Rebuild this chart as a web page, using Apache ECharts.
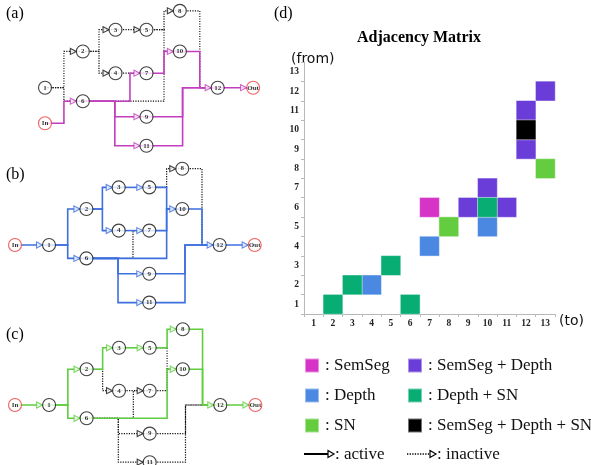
<!DOCTYPE html>
<html>
<head>
<meta charset="utf-8">
<script src="https://cdn.jsdelivr.net/npm/echarts@6/dist/echarts.min.js"></script>
<style>
  html, body { margin: 0; padding: 0; background: #fff; }
  #main { width: 591px; height: 465px; }
</style>
</head>
<body>
<div id="main"></div>
<script>
// ---- Adjacency matrix ----
const matrixTicks = ['1','2','3','4','5','6','7','8','9','10','11','12','13'];

// cells as [to, from], grouped by the tasks that keep the edge
const cellsSemSeg      = [['7','6']];
const cellsDepth       = [['4','2'], ['7','4'], ['10','5']];
const cellsSN          = [['8','5'], ['13','8']];
const cellsSemSegDepth = [['9','6'], ['11','6'], ['10','7'], ['12','9'], ['12','11'], ['13','12']];
const cellsDepthSN     = [['2','1'], ['6','1'], ['3','2'], ['5','3'], ['10','6']];
const cellsAll         = [['12','10']];

const groupNames  = ['SemSeg', 'Depth', 'SN', 'SemSeg + Depth', 'Depth + SN', 'SemSeg + Depth + SN'];
const groupCells  = [cellsSemSeg, cellsDepth, cellsSN, cellsSemSegDepth, cellsDepthSN, cellsAll];
const groupColors = ['#d534c6', '#4a88e2', '#63cc3f', '#6a3cd8', '#08ad74', '#000000'];

// ---- Task graphs ----
// node layout: column and row (rows grow downward)
const nodeNames = ['In', '1', '2', '3', '4', '5', '6', '7', '8', '9', '10', '11', '12', 'Out'];
const nodeCols  = [0, 1, 2.1, 3.05, 3.05, 3.95, 2.1, 3.95, 4.92, 3.95, 4.92, 3.95, 6.02, 7.05];
const nodeRows  = [0, 0, -2.5, -4, -1, -4, 0.93, -1, -5.3, 2, -2.5, 4, 0, 0];
const inPosA    = [1, 2.45];   // graph (a) feeds the input below node 1

// edges: [from, to, column of the vertical trunk]
const edgesShared = [
  ['1', '2', 1.55], ['1', '6', 1.55], ['2', '3', 2.57], ['2', '4', 2.57],
  ['3', '5', null], ['4', '7', null], ['6', '7', 3.47], ['6', '9', 3.03],
  ['6', '11', 3.03], ['5', '8', 4.46], ['5', '10', 4.46], ['6', '10', 4.46],
  ['7', '10', 4.46], ['8', '12', 5.5], ['10', '12', 5.5], ['9', '12', 5.0],
  ['11', '12', 5.0], ['12', 'Out', null]
];
const edgesA = [['In', '6', 1.55]].concat(edgesShared);
const edgesBC = [['In', '1', null]].concat(edgesShared);

const activeA = ['In-6', '6-7', '6-9', '6-11', '7-10', '10-12', '9-12', '11-12', '12-Out'];
const activeB = ['In-1', '1-2', '1-6', '2-3', '2-4', '3-5', '4-7', '5-10', '6-10', '7-10',
                 '6-9', '6-11', '9-12', '11-12', '10-12', '12-Out'];
const activeC = ['In-1', '1-2', '1-6', '2-3', '3-5', '5-8', '6-10', '8-12', '10-12', '12-Out'];

const panels = [
  { label: '(a)', color: '#c23ebf', edges: edgesA,  active: activeA, inPos: inPosA,
    x0: 10.6, ux: 34.4, y0: 87.7, uy: 14.5, labelY: 6 },
  { label: '(b)', color: '#3d6fdf', edges: edgesBC, active: activeB, inPos: null,
    x0: 15, ux: 34, y0: 245, uy: 14.4, labelY: 167 },
  { label: '(c)', color: '#5ecd3e', edges: edgesBC, active: activeC, inPos: null,
    x0: 15, ux: 34.1, y0: 405, uy: 14.3, labelY: 327 }
];

const W = 591, H = 465, PANEL_W = 280;
const serif = '"Liberation Serif", "Times New Roman", serif';

const grids = [], xAxes = [], yAxes = [], series = [], graphics = [];

panels.forEach(function (p, pi) {
  grids.push({ left: 0, top: 0, width: PANEL_W, height: H });
  xAxes.push({ type: 'value', gridIndex: pi, show: false,
    min: -p.x0 / p.ux, max: (PANEL_W - p.x0) / p.ux });
  yAxes.push({ type: 'value', gridIndex: pi, show: false, inverse: true,
    min: -p.y0 / p.uy, max: (H - p.y0) / p.uy });

  const pos = {};
  nodeNames.forEach(function (n, i) { pos[n] = [nodeCols[i], nodeRows[i]]; });
  if (p.inPos) pos['In'] = p.inPos;

  function route(e) {
    const a = pos[e[0]], b = pos[e[1]];
    if (e[2] === null || a[1] === b[1]) return [a, b];
    return [a, [e[2], a[1]], [e[2], b[1]], b];
  }

  const on = [], off = [];
  const arrowActive = {};
  p.edges.forEach(function (e) {
    const isOn = p.active.indexOf(e[0] + '-' + e[1]) >= 0;
    (isOn ? on : off).push({ coords: route(e) });
    arrowActive[e[1]] = arrowActive[e[1]] || isOn;
  });

  series.push({
    type: 'lines', coordinateSystem: 'cartesian2d', xAxisIndex: pi, yAxisIndex: pi,
    polyline: true, silent: true, z: 2, data: off,
    lineStyle: { color: '#111', width: 1.2, type: [1.2, 1.3], opacity: 1 }
  });
  series.push({
    type: 'lines', coordinateSystem: 'cartesian2d', xAxisIndex: pi, yAxisIndex: pi,
    polyline: true, silent: true, z: 3, data: on,
    lineStyle: { color: p.color, width: 1.6, opacity: 1 }
  });

  // arrow heads in front of each node that receives an edge
  const arrows = Object.keys(arrowActive).map(function (n) {
    return {
      value: pos[n],
      itemStyle: { color: '#fff', borderColor: arrowActive[n] ? p.color : '#111', borderWidth: 1.1 }
    };
  });
  series.push({
    type: 'scatter', xAxisIndex: pi, yAxisIndex: pi, silent: true, z: 4,
    symbol: 'triangle', symbolSize: [6, 6], symbolRotate: -90, symbolOffset: [-9.5, 0],
    data: arrows
  });

  // nodes
  const nodes = nodeNames.map(function (n) {
    const io = (n === 'In' || n === 'Out');
    return {
      name: n, value: pos[n],
      itemStyle: { color: '#fff', borderColor: io ? '#ec3a3a' : '#111', borderWidth: 1.1 }
    };
  });
  series.push({
    type: 'scatter', xAxisIndex: pi, yAxisIndex: pi, silent: true, z: 5,
    symbol: 'circle', symbolSize: 13, data: nodes,
    label: { show: true, position: 'inside', formatter: '{b}', color: '#000',
      fontFamily: serif, fontWeight: 'bold', fontSize: 7 }
  });

  graphics.push({ type: 'text', left: 6, top: p.labelY,
    style: { text: p.label, font: '16px ' + serif, fill: '#000' } });
});

// ---- matrix grid ----
const mi = panels.length;
grids.push({ left: 304, top: 62, width: 251, height: 252 });
const axisCommon = {
  type: 'category', gridIndex: mi, data: matrixTicks,
  axisLine: { lineStyle: { color: '#b8b8b8', width: 1 } },
  axisTick: { show: true, interval: 0, length: 3, lineStyle: { color: '#b8b8b8' } },
  axisLabel: { interval: 0, fontFamily: serif, fontWeight: 'bold', fontSize: 9.5, color: '#222', margin: 5 },
  splitLine: { show: false }
};
xAxes.push(Object.assign({}, axisCommon, {
  name: '(to)', nameLocation: 'end', nameGap: 4,
  nameTextStyle: { fontFamily: '"DejaVu Sans", sans-serif', fontSize: 14, color: '#111',
    verticalAlign: 'top', padding: [0, 0, 0, 0] }
}));
yAxes.push(Object.assign({}, axisCommon, {
  name: '(from)', nameLocation: 'end', nameGap: -4,
  nameTextStyle: { fontFamily: '"DejaVu Sans", sans-serif', fontSize: 14, color: '#111',
    align: 'left', padding: [0, 0, 0, -13] }
}));

groupNames.forEach(function (name, gi) {
  series.push({
    type: 'heatmap', name: name, xAxisIndex: mi, yAxisIndex: mi, silent: true,
    itemStyle: { color: groupColors[gi], borderColor: 'rgba(255,255,255,0.45)', borderWidth: 1 },
    data: groupCells[gi].map(function (c) {
      return [matrixTicks.indexOf(c[0]), matrixTicks.indexOf(c[1]), 1];
    })
  });
});

const legendBase = {
  orient: 'vertical', icon: 'rect', itemWidth: 14, itemHeight: 14, itemGap: 13,
  selectedMode: false, padding: 0,
  textStyle: { fontFamily: serif, fontSize: 17, color: '#111', padding: [0, 0, 0, 1] },
  formatter: function (n) { return ': ' + n; }
};
const legends = [
  Object.assign({}, legendBase, { left: 304, top: 357, data: groupNames.slice(0, 3) }),
  Object.assign({}, legendBase, { left: 407, top: 357, data: groupNames.slice(3) })
];

// key for the edge styles
graphics.push(
  { type: 'line', shape: { x1: 304, y1: 454, x2: 328, y2: 454 }, style: { stroke: '#000', lineWidth: 2 } },
  { type: 'polygon', shape: { points: [[328, 450.5], [334, 454], [328, 457.5]] },
    style: { fill: '#fff', stroke: '#000', lineWidth: 1.2 } },
  { type: 'text', left: 335, top: 446, style: { text: ': active', font: '17px ' + serif, fill: '#111' } },
  { type: 'line', shape: { x1: 407, y1: 454, x2: 430, y2: 454 },
    style: { stroke: '#000', lineWidth: 1.4, lineDash: [1.3, 1.3] } },
  { type: 'polygon', shape: { points: [[430, 450.5], [436, 454], [430, 457.5]] },
    style: { fill: '#fff', stroke: '#000', lineWidth: 1.2 } },
  { type: 'text', left: 437, top: 446, style: { text: ': inactive', font: '17px ' + serif, fill: '#111' } },
  { type: 'text', left: 274, top: 6, style: { text: '(d)', font: '16px ' + serif, fill: '#000' } }
);

const chart = echarts.init(document.getElementById('main'), null, { renderer: 'canvas' });
chart.setOption({
  animation: false,
  backgroundColor: '#fff',
  title: {
    text: 'Adjacency Matrix', left: 357, top: 30, padding: 0,
    textStyle: { fontFamily: serif, fontWeight: 'bold', fontSize: 16, color: '#000' }
  },
  legend: legends,
  grid: grids,
  xAxis: xAxes,
  yAxis: yAxes,
  series: series,
  graphic: graphics
});
</script>
</body>
</html>
